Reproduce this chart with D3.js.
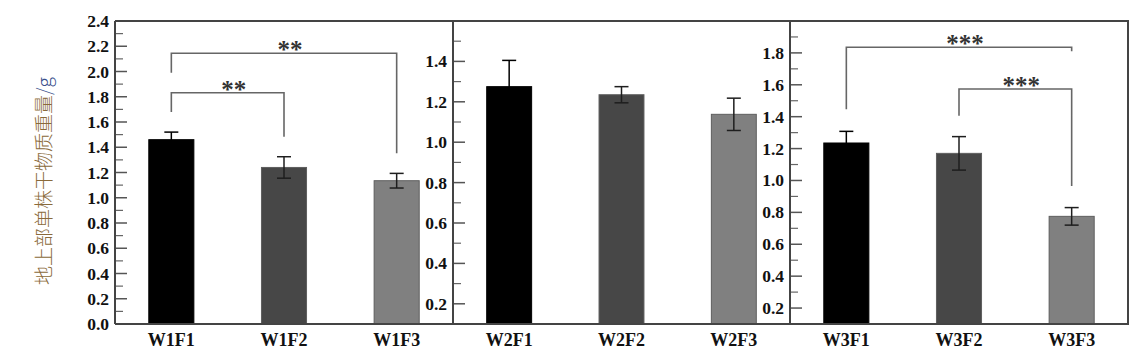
<!DOCTYPE html>
<html>
<head>
<meta charset="utf-8">
<script src="https://cdn.jsdelivr.net/npm/d3@7/dist/d3.min.js"></script>
<style>
    html, body { margin: 0; padding: 0; background: #fff; }
    svg { display: block; }
    .tick-label { font-family: "Liberation Serif", "Times New Roman", serif; font-weight: bold; font-size: 17.5px; fill: #111; }
    .cat-label  { font-family: "Liberation Serif", "Times New Roman", serif; font-weight: bold; font-size: 18px; fill: #111; }
    .stars      { font-family: "Liberation Serif", "Times New Roman", serif; font-weight: bold; font-size: 25px; fill: #333; }
</style>
</head>
<body>
<svg id="chart" width="1142" height="363"></svg>
<script>
// ===== DATA =====
const categories = [
    ['W1F1', 'W1F2', 'W1F3'],
    ['W2F1', 'W2F2', 'W2F3'],
    ['W3F1', 'W3F2', 'W3F3'],
];
const means  = [
    [1.46, 1.24, 1.135],
    [1.275, 1.235, 1.138],
    [1.235, 1.17, 0.775],
];
const errors = [
    [0.06, 0.085, 0.058],
    [0.13, 0.04, 0.08],
    [0.073, 0.105, 0.055],
];
const yDomains = [[0, 2.4], [0.1, 1.6], [0.1, 2.0]];
const majorTicks = [
    [0.0, 0.2, 0.4, 0.6, 0.8, 1.0, 1.2, 1.4, 1.6, 1.8, 2.0, 2.2, 2.4],
    [0.2, 0.4, 0.6, 0.8, 1.0, 1.2, 1.4],
    [0.2, 0.4, 0.6, 0.8, 1.0, 1.2, 1.4, 1.6, 1.8],
];
const minorTicks = [
    [0.1, 0.3, 0.5, 0.7, 0.9, 1.1, 1.3, 1.5, 1.7, 1.9, 2.1, 2.3],
    [0.3, 0.5, 0.7, 0.9, 1.1, 1.3, 1.5],
    [0.3, 0.5, 0.7, 0.9, 1.1, 1.3, 1.5, 1.7, 1.9],
];
const barColors = ['#000000', '#474747', '#808080'];
// significance brackets: [panel, from, to, bracket level, left end, right end, label]
const brackets = [
    [0, 0, 2, 2.144, 1.99, 1.352, '**'],
    [0, 0, 1, 1.832, 1.68, 1.484, '**'],
    [2, 0, 2, 1.835, 1.446, 1.81, '***'],
    [2, 1, 2, 1.574, 1.406, 0.965, '***'],
];
const yTitle = '地上部单株干物质重量';
const yUnit  = '/g';

// ===== LAYOUT =====
const plotTop = 21, plotBottom = 324;
const panelX = [115, 453, 790, 1128];
const svg = d3.select('#chart');

const xs = [], ys = [];
categories.forEach((cats, i) => {
    xs.push(d3.scaleBand().domain(cats).range([panelX[i], panelX[i + 1]])
        .paddingInner(0.6).paddingOuter(0.3));
    ys.push(d3.scaleLinear().domain(yDomains[i]).range([plotBottom, plotTop]));
});

// ===== PANELS =====
categories.forEach((cats, i) => {
    const x = xs[i], y = ys[i];
    const g = svg.append('g');
    const cx = d => x(d) + x.bandwidth() / 2;

    // bars
    g.selectAll('.bar')
        .data(cats)
        .enter().append('rect')
        .attr('x', d => x(d))
        .attr('width', x.bandwidth())
        .attr('y', (d, j) => y(means[i][j]))
        .attr('height', (d, j) => plotBottom - y(means[i][j]))
        .attr('fill', (d, j) => barColors[j])
        .attr('stroke', (d, j) => j === 0 ? '#000' : '#5e5e5e')
        .attr('stroke-width', 1);

    // error bars
    const eb = g.selectAll('.err')
        .data(cats)
        .enter().append('g')
        .attr('stroke', (d, j) => j === 0 ? '#000' : '#1e1e1e')
        .attr('stroke-width', 1.5);
    eb.append('line')
        .attr('x1', cx).attr('x2', cx)
        .attr('y1', (d, j) => y(means[i][j] + errors[i][j]))
        .attr('y2', (d, j) => y(means[i][j] - errors[i][j]));
    [1, -1].forEach(s => {
        eb.append('line')
            .attr('x1', d => cx(d) - 7).attr('x2', d => cx(d) + 7)
            .attr('y1', (d, j) => y(means[i][j] + s * errors[i][j]))
            .attr('y2', (d, j) => y(means[i][j] + s * errors[i][j]));
    });

    // ticks (inward)
    const x0 = panelX[i];
    g.selectAll('.major')
        .data(majorTicks[i])
        .enter().append('line')
        .attr('x1', x0).attr('x2', x0 + 12)
        .attr('y1', d => y(d)).attr('y2', d => y(d))
        .attr('stroke', '#555').attr('stroke-width', 1.5);
    g.selectAll('.minor')
        .data(minorTicks[i])
        .enter().append('line')
        .attr('x1', x0).attr('x2', x0 + 8)
        .attr('y1', d => y(d)).attr('y2', d => y(d))
        .attr('stroke', '#666').attr('stroke-width', 1.2);
    g.selectAll('.tick-label')
        .data(majorTicks[i])
        .enter().append('text')
        .attr('class', 'tick-label')
        .attr('x', x0 - 6)
        .attr('y', d => y(d) + 6)
        .attr('text-anchor', 'end')
        .text(d => d3.format('.1f')(d));

    // category labels
    g.selectAll('.cat-label')
        .data(cats)
        .enter().append('text')
        .attr('class', 'cat-label')
        .attr('x', cx)
        .attr('y', 346)
        .attr('text-anchor', 'middle')
        .text(d => d);

    // left axis line of the panel
    g.append('line')
        .attr('x1', x0).attr('x2', x0)
        .attr('y1', plotTop).attr('y2', plotBottom)
        .attr('stroke', '#444').attr('stroke-width', 2);
});

// outer frame: top, bottom, right
svg.append('path')
    .attr('d', `M${panelX[0]},${plotTop}H${panelX[3]}V${plotBottom}H${panelX[0]}`)
    .attr('fill', 'none')
    .attr('stroke', '#444')
    .attr('stroke-width', 2);

// ===== SIGNIFICANCE BRACKETS =====
brackets.forEach(([p, a, b, lvl, e1, e2, label]) => {
    const x = xs[p], y = ys[p];
    const xa = x(categories[p][a]) + x.bandwidth() / 2;
    const xb = x(categories[p][b]) + x.bandwidth() / 2;
    svg.append('path')
        .attr('d', `M${xa},${y(e1)}V${y(lvl)}H${xb}V${y(e2)}`)
        .attr('fill', 'none')
        .attr('stroke', '#666')
        .attr('stroke-width', 1.6);
    svg.append('text')
        .attr('class', 'stars')
        .attr('x', (xa + xb) / 2 + 6)
        .attr('y', y(lvl) + 5)
        .attr('text-anchor', 'middle')
        .text(label);
});

// ===== Y TITLE =====
const title = svg.append('text')
    .attr('transform', 'translate(51,181) rotate(-90)')
    .attr('text-anchor', 'middle')
    .style('font-family', '"Noto Sans CJK SC", sans-serif')
    .style('font-weight', 300)
    .style('font-size', '19px');
title.append('tspan').attr('fill', '#8a6a3a').text(yTitle);
title.append('tspan').attr('fill', '#3a4f8c').text(yUnit);
</script>
</body>
</html>
